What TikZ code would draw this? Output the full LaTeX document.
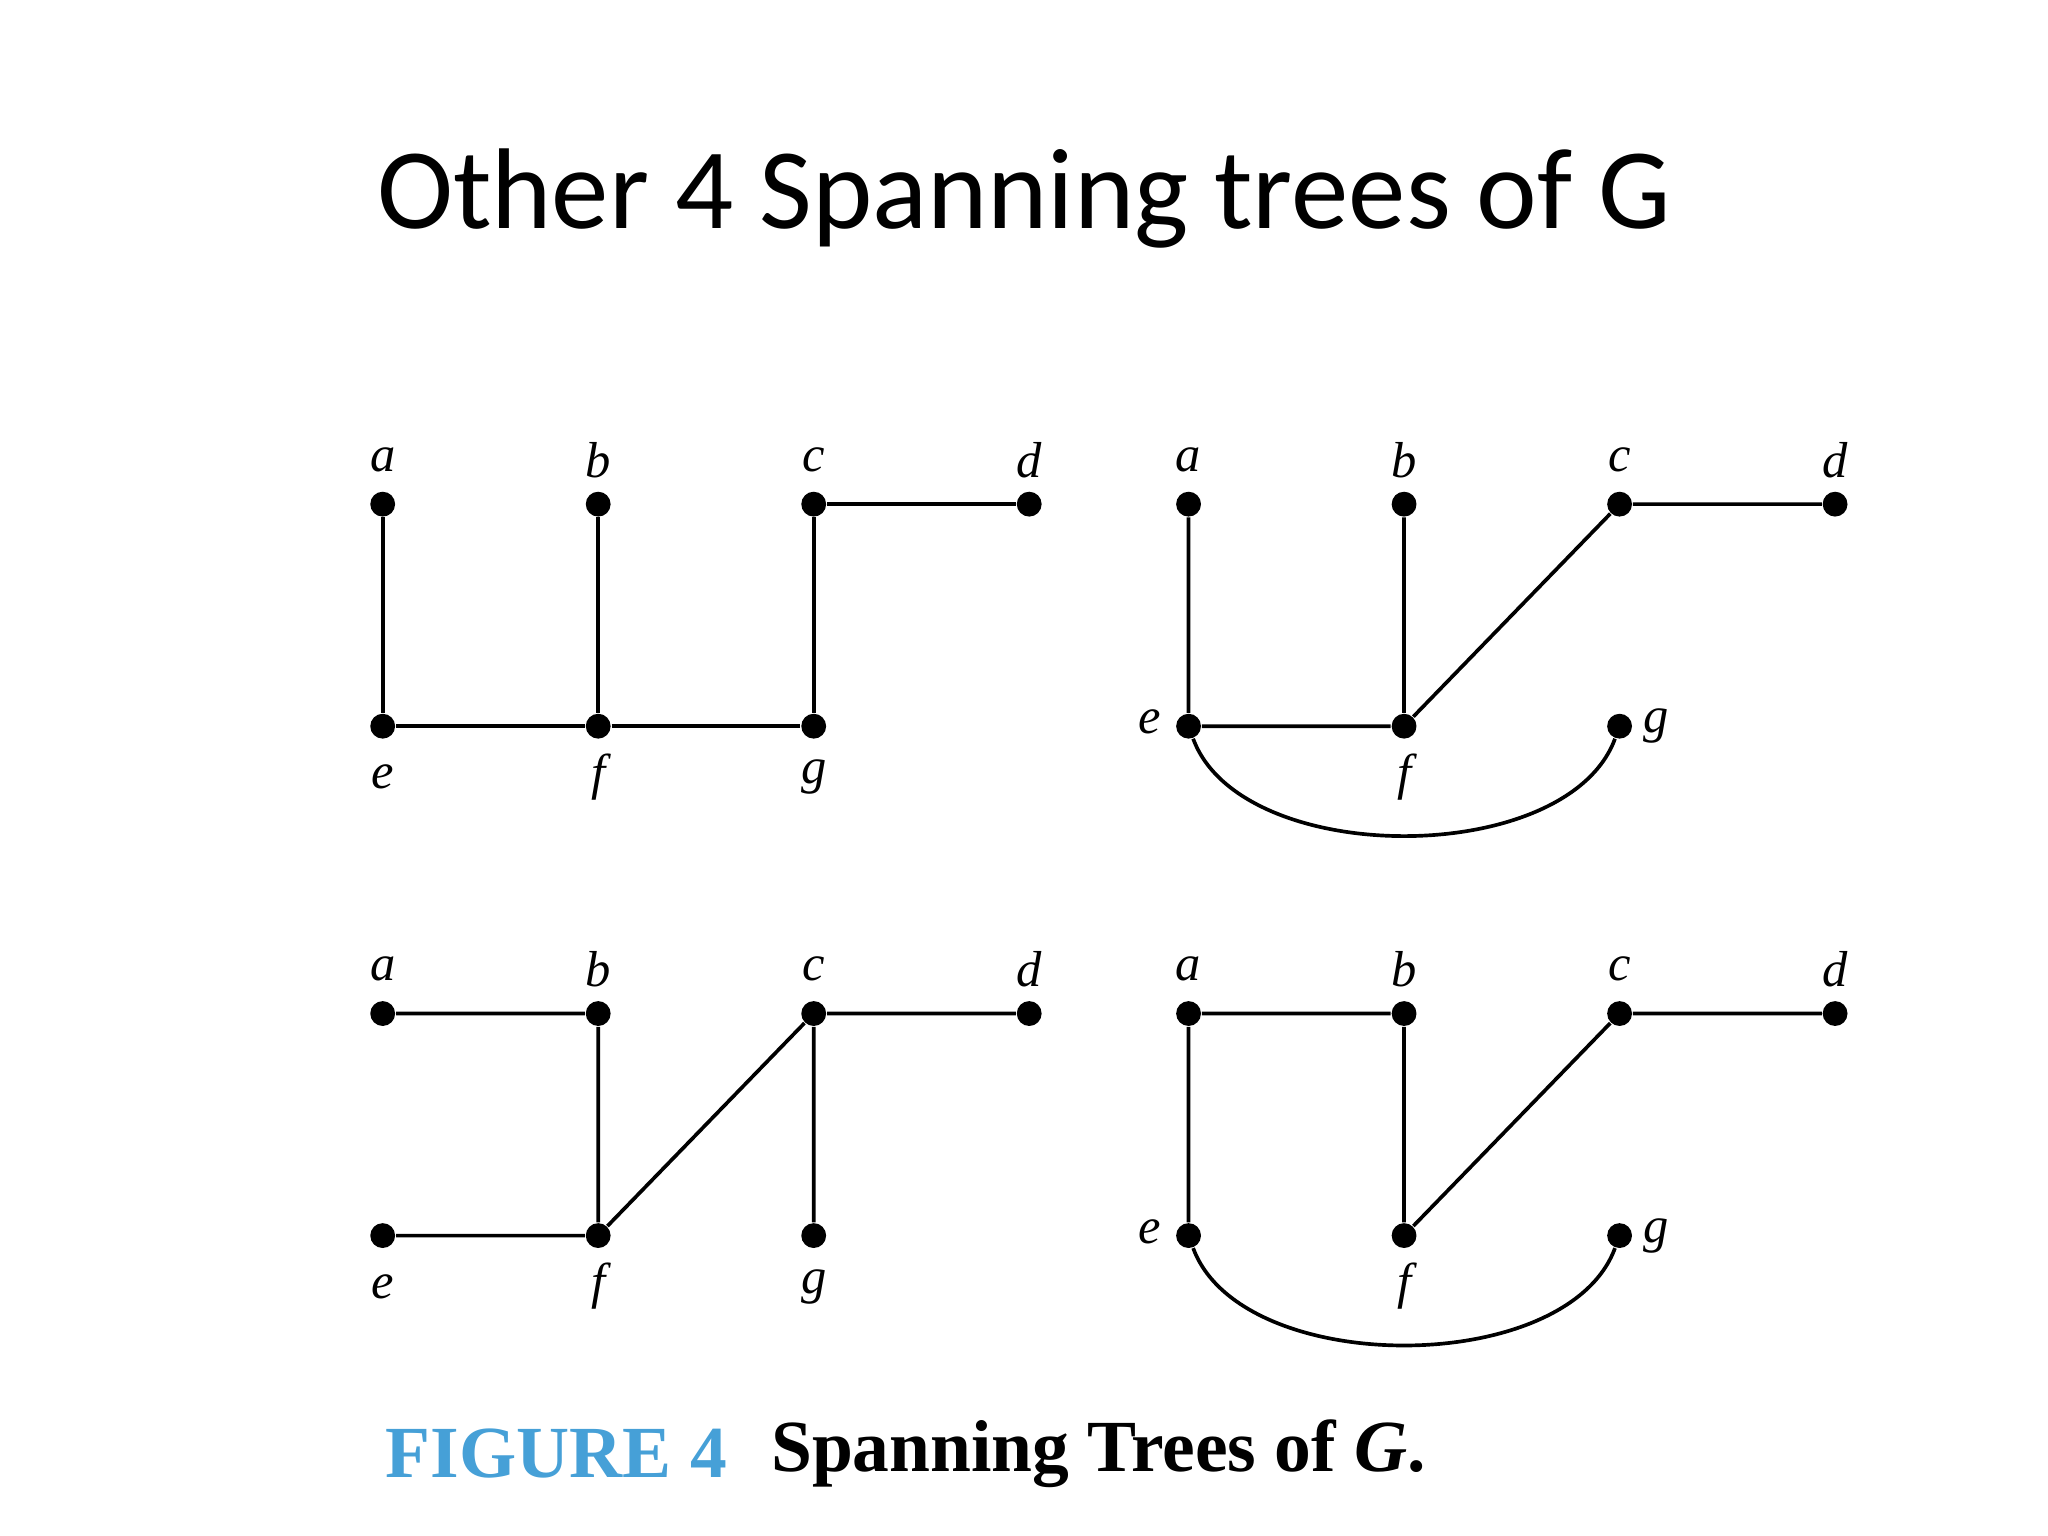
\documentclass[tikz,border=0pt]{standalone}
\usepackage{fontspec}
\setmainfont{Liberation Serif}
\newfontfamily\titlefont{Carlito}
\begin{document}
\begin{tikzpicture}[x=0.01cm,y=-0.01cm,
  v/.style={circle,fill=black,inner sep=0pt,minimum size=0.19cm},
  lbl/.style={font=\fontsize{11}{12}\selectfont\itshape},
  ed/.style={line width=0.8pt}]
\useasboundingbox (0,0) rectangle (1568,1176);
\node[font=\titlefont\fontsize{25}{30}\selectfont] (title) at (784,152) {Other 4 Spanning trees of G};
% generic placement
\foreach \ox/\oy/\n in {0/0/A,617/0/B,0/390/C,617/390/D}{
  \node[v] (\n a) at (293+\ox,386+\oy) {};
  \node[v] (\n b) at (458+\ox,386+\oy) {};
  \node[v] (\n c) at (623+\ox,386+\oy) {};
  \node[v] (\n d) at (788+\ox,386+\oy) {};
  \node[v] (\n e) at (293+\ox,556+\oy) {};
  \node[v] (\n f) at (458+\ox,556+\oy) {};
  \node[v] (\n g) at (623+\ox,556+\oy) {};
  \node[lbl] (\n la) at (293+\ox,352+\oy) {a};
  \node[lbl] (\n lb) at (458+\ox,352+\oy) {b};
  \node[lbl] (\n lc) at (623+\ox,352+\oy) {c};
  \node[lbl] (\n ld) at (788+\ox,352+\oy) {d};
}
% bottom labels for left trees
\foreach \oy/\n in {0/A,390/C}{
  \node[lbl] (\n le) at (293,595+\oy) {e};
  \node[lbl] (\n lf) at (458,595+\oy) {f};
  \node[lbl] (\n lg) at (623,595+\oy) {g};
}
\foreach \oy/\n in {0/B,390/D}{
  \node[lbl] (\n le) at (880,553+\oy) {e};
  \node[lbl] (\n lf) at (1075,595+\oy) {f};
  \node[lbl] (\n lg) at (1268,556+\oy) {g};
}
% TL
\draw[ed] (Aa)--(Ae) (Ab)--(Af) (Ac)--(Ag) (Ac)--(Ad) (Ae)--(Af)--(Ag);
% TR
\draw[ed] (Ba)--(Be) (Bb)--(Bf) (Be)--(Bf) (Bf)--(Bc) (Bc)--(Bd);
\draw[ed] (Be) .. controls (950,665) and (1200,665) .. (Bg);
% BL
\draw[ed] (Ca)--(Cb) (Cb)--(Cf) (Ce)--(Cf) (Cf)--(Cc) (Cc)--(Cd) (Cc)--(Cg);
% BR
\draw[ed] (Da)--(Db) (Da)--(De) (Db)--(Df) (Df)--(Dc) (Dc)--(Dd);
\draw[ed] (De) .. controls (950,1055) and (1200,1055) .. (Dg);
% caption
\node[anchor=west,font=\fontsize{16}{18}\selectfont\bfseries,text={rgb,255:red,70;green,160;blue,215}] (fig) at (283,1113) {FIGURE 4};
\node[anchor=west,font=\fontsize{16}{18}\selectfont\bfseries] (cap) at (578,1113) {Spanning Trees of \textit{G}.};
\end{tikzpicture}
\end{document}
